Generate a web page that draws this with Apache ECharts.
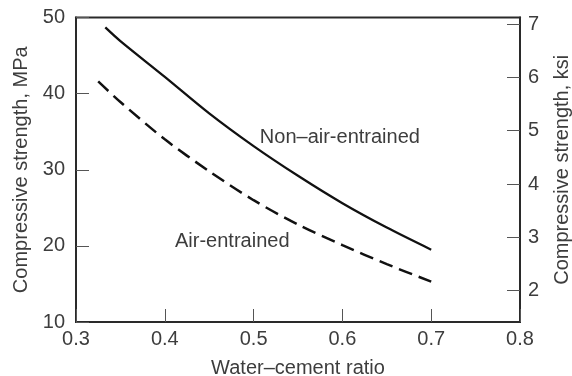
<!DOCTYPE html>
<html>
<head>
<meta charset="utf-8">
<script src="https://cdn.jsdelivr.net/npm/echarts@6/dist/echarts.min.js"></script>
<style>html,body{margin:0;padding:0;background:#fff}#c{width:572px;height:376px}</style>
</head>
<body>
<div id="c"></div>
<script>
// Water–cement ratio vs compressive strength (MPa)
const ratioNonAir = [0.333, 0.35, 0.40, 0.45, 0.50, 0.55, 0.60, 0.65, 0.70];
const strengthNonAir = [48.7, 46.9, 42.2, 37.4, 33.1, 29.2, 25.6, 22.4, 19.5];
const ratioAir = [0.325, 0.35, 0.40, 0.45, 0.50, 0.55, 0.60, 0.65, 0.70];
const strengthAir = [41.6, 38.9, 34.0, 29.8, 26.0, 22.8, 20.1, 17.6, 15.3];
const xTicks = [0.3, 0.4, 0.5, 0.6, 0.7, 0.8];
const mpaTicks = [10, 20, 30, 40, 50];
const ksiTicks = [2, 3, 4, 5, 6, 7];
const labelNonAir = 'Non–air-entrained';
const labelAir = 'Air-entrained';

const FONT = '"Liberation Sans", Arial, Helvetica, sans-serif';
const TXT = '#3d3d3d';
const chart = echarts.init(document.getElementById('c'), null, {renderer: 'canvas'});
const pair = (xs, ys) => xs.map((x, i) => [x, ys[i]]);

chart.setOption({
  animation: false,
  backgroundColor: '#fff',
  textStyle: {fontFamily: FONT},
  grid: {left: 76, right: 52, top: 17.5, bottom: 54, show: true, borderColor: '#2a2a2a', borderWidth: 2,
    containLabel: false, outerBoundsMode: 'none'},
  xAxis: {
    type: 'value', min: 0.3, max: 0.8, interval: 0.1,
    name: 'Water–cement ratio', nameLocation: 'middle', nameGap: 36,
    nameTextStyle: {fontSize: 20, color: TXT, fontFamily: FONT},
    axisLine: {show: true, lineStyle: {color: '#2a2a2a', width: 2}},
    axisTick: {show: true, inside: true, length: 13, lineStyle: {color: '#555', width: 1}},
    axisLabel: {fontSize: 20, color: TXT, margin: 7, fontFamily: FONT,
      formatter: v => v.toFixed(1), customValues: xTicks},
    splitLine: {show: false}
  },
  yAxis: [{
    type: 'value', min: 10, max: 50, interval: 10, position: 'left',
    name: 'Compressive strength, MPa', nameLocation: 'middle', nameGap: 45,
    nameTextStyle: {fontSize: 20, color: TXT, fontFamily: FONT},
    axisLine: {show: true, lineStyle: {color: '#2a2a2a', width: 2}},
    axisTick: {show: true, inside: true, length: 13, lineStyle: {color: '#555', width: 1}},
    axisLabel: {fontSize: 20, color: TXT, margin: 11, fontFamily: FONT, customValues: mpaTicks},
    splitLine: {show: false}
  }, {
    type: 'value', min: 1.413, max: 7.122, position: 'right',
    name: 'Compressive strength, ksi', nameLocation: 'middle', nameGap: 32,
    nameTextStyle: {fontSize: 20, color: TXT, fontFamily: FONT},
    axisLine: {show: true, lineStyle: {color: '#2a2a2a', width: 2}},
    axisTick: {show: true, inside: true, length: 13, lineStyle: {color: '#555', width: 1}, customValues: ksiTicks},
    axisLabel: {fontSize: 20, color: TXT, margin: 8, fontFamily: FONT, customValues: ksiTicks},
    splitLine: {show: false}
  }],
  series: [{
    name: labelNonAir, type: 'line', yAxisIndex: 0, smooth: 0.3, showSymbol: false,
    data: pair(ratioNonAir, strengthNonAir),
    lineStyle: {color: '#111', width: 2.3},
    markPoint: {
      symbolSize: 0, silent: true,
      data: [{coord: [0.507, 34.3], label: {show: true, formatter: labelNonAir, position: 'right', distance: 0,
        fontSize: 20, color: TXT, fontFamily: FONT}}]
    }
  }, {
    name: labelAir, type: 'line', yAxisIndex: 0, smooth: 0.3, showSymbol: false,
    data: pair(ratioAir, strengthAir),
    lineStyle: {color: '#111', width: 2.5, type: [14, 7]},
    markPoint: {
      symbolSize: 0, silent: true,
      data: [{coord: [0.4115, 20.6], label: {show: true, formatter: labelAir, position: 'right', distance: 0,
        fontSize: 20, color: TXT, fontFamily: FONT}}]
    }
  }]
});
</script>
</body>
</html>
